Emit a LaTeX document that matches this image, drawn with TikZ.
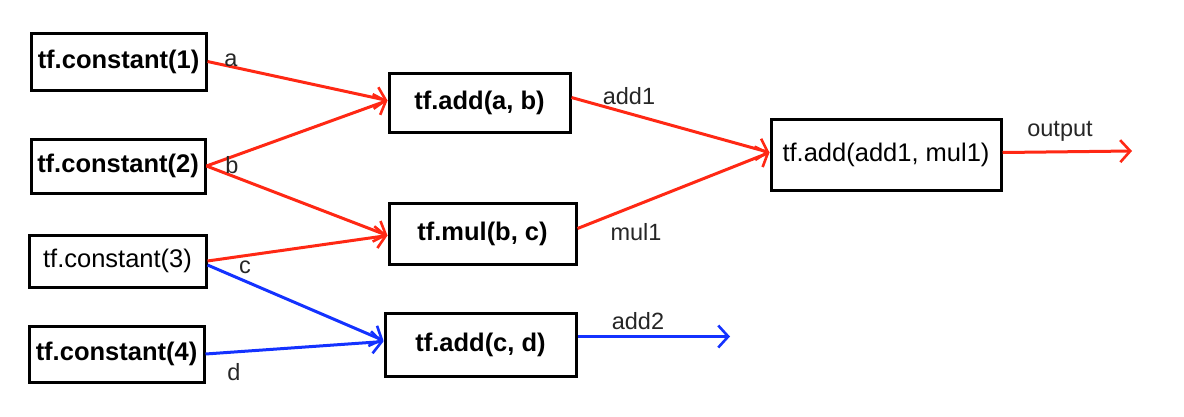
\documentclass[tikz,border=0pt]{standalone}
\usepackage{fontspec}
\setmainfont{Liberation Sans}
\usetikzlibrary{arrows.meta}
\definecolor{ared}{RGB}{255,40,20}
\definecolor{ablue}{RGB}{20,50,255}
\tikzset{
  opbox/.style={draw=black, line width=3pt, inner sep=0pt, font=\fontsize{25.5}{30}\selectfont},
  bopbox/.style={opbox, font=\fontsize{25.5}{30}\selectfont\bfseries},
  redarrow/.style={draw=ared, line width=3pt, -{Straight Barb[length=10pt,width=22pt,line width=2.6pt]}},
  bluearrow/.style={draw=ablue, line width=3pt, -{Straight Barb[length=10pt,width=22pt,line width=2.6pt]}},
  lbl/.style={font=\fontsize{23.5}{28}\selectfont, inner sep=0pt, text=black!85}
}
\begin{document}
\begin{tikzpicture}[x=1pt,y=-1pt]
\useasboundingbox (0,0) rectangle (1184,416);
% input constants
\node[bopbox, minimum width=175pt, minimum height=57pt] (c1) at (118.5,61.5) {tf.constant(1)};
\node[bopbox, minimum width=174pt, minimum height=54pt] (c2) at (118,166) {tf.constant(2)};
\node[opbox, minimum width=177pt, minimum height=52pt] (c3) at (117.5,261) {tf.constant(3)};
\node[bopbox, minimum width=175pt, minimum height=56pt] (c4) at (116.5,354) {tf.constant(4)};
% ops
\node[bopbox, minimum width=181pt, minimum height=59pt] (ab) at (479.5,102.5) {tf.add(a, b)};
\node[bopbox, minimum width=187pt, minimum height=61pt] (mul) at (482.5,233.5) {tf.mul(b, c)};
\node[bopbox, minimum width=191pt, minimum height=63pt] (cd) at (480.5,344.5) {tf.add(c, d)};
\node[opbox, minimum width=230pt, minimum height=71pt] (fin) at (886,154.5) {tf.add(add1, mul1)};
% free ends
\coordinate (out) at (1132,151);
\coordinate (add2end) at (730,336.5);
% red connectors
\draw[redarrow] (c1.east) -- ([yshift=2pt]ab.west);
\draw[redarrow] (c2.east) -- ([yshift=2pt]ab.west);
\draw[redarrow] (c2.east) -- ([yshift=-2pt]mul.west);
\draw[redarrow] (c3.east) -- ([yshift=-2pt]mul.west);
\draw[redarrow] ([yshift=5pt]ab.east) -- ([yshift=2pt]fin.west);
\draw[redarrow] ([yshift=5pt]mul.east) -- ([yshift=2pt]fin.west);
\draw[redarrow] ([yshift=2pt]fin.east) -- (out);
% blue connectors
\draw[bluearrow] ([yshift=-4pt]c3.east) -- ([yshift=4pt]cd.west);
\draw[bluearrow] (c4.east) -- ([yshift=3pt]cd.west);
\draw[bluearrow] ([yshift=8pt]cd.east) -- (add2end);
% labels
\node[lbl] (la) at (231,60) {a};
\node[lbl] (lb) at (232,165) {b};
\node[lbl] (lc) at (245,267) {c};
\node[lbl] (ld) at (234,372) {d};
\node[lbl] (ladd1) at (629,96) {add1};
\node[lbl] (lmul1) at (636,232) {mul1};
\node[lbl] (ladd2) at (638,321) {add2};
\node[lbl] (lout) at (1060,131) {output};
\end{tikzpicture}
\end{document}
